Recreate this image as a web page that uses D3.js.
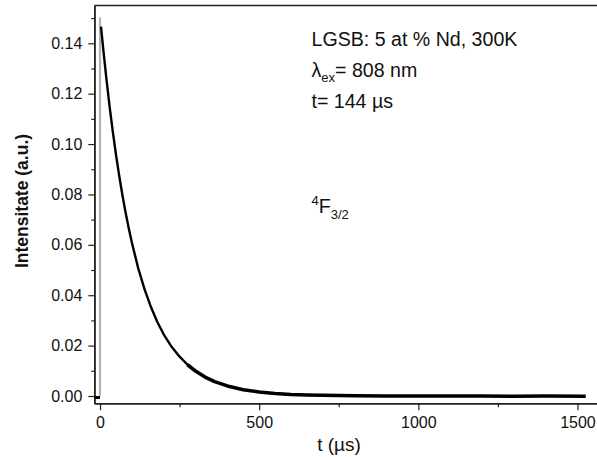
<!DOCTYPE html>
<html>
<head>
<meta charset="utf-8">
<script src="https://cdn.jsdelivr.net/npm/d3@7"></script>
<style>
  body { margin: 0; background: #fff; }
  text { font-family: "Liberation Sans", Arial, sans-serif; fill: #111; }
</style>
</head>
<body>
<script>
//data
var decayTime = [3, 10, 20, 30, 40, 50, 60, 70, 80, 90, 100, 120, 140, 160, 180, 200, 225, 250, 275, 300];
var decayValue = [0.1466, 0.1379, 0.1260, 0.1150, 0.1050, 0.0959, 0.0876, 0.0800, 0.0730, 0.0667,
  0.0609, 0.0507, 0.0423, 0.0353, 0.0294, 0.0245, 0.0195, 0.0156, 0.0124, 0.0099];
var tailTime = [275, 300, 330, 360, 400, 450, 500, 550, 600, 650, 700, 800, 900,
  1000, 1100, 1200, 1300, 1400, 1526];
var tailValue = [0.0124, 0.0099, 0.0075, 0.0057, 0.0040, 0.0025, 0.0016,
  0.0010, 0.0006, 0.0004, 0.0003, 0.0001, 0.0000, 0.0000, 0.0000, 0.0000, -0.0001, 0.0000, -0.0001];
var preTime = [-16, 0];
var preValue = [-0.0006, -0.0006];
var spikeTime = [0, 0];
var spikeValue = [0.0, 0.1503];
var xMajor = [0, 500, 1000, 1500];
var xMinor = [250, 750, 1250];
var yMajor = [0, 0.02, 0.04, 0.06, 0.08, 0.10, 0.12, 0.14];
var yMinor = [0.01, 0.03, 0.05, 0.07, 0.09, 0.11, 0.13, 0.15];

var svgWidth = 597;
var svgHeight = 457;

var svg = d3.select("body")
  .append("svg")
  .attr("width", svgWidth)
  .attr("height", svgHeight);

//scales, the plot runs off the right edge of the picture
var xScale = d3.scaleLinear()
  .domain([-18, 1562])
  .range([94.3, 597.2]);
var yScale = d3.scaleLinear()
  .domain([-0.0029, 0.155])
  .range([403.3, 5.5]);

var axisColor = "#222";

//x axis
svg.append("g")
  .attr("transform", "translate(0," + yScale.range()[0] + ")")
  .call(d3.axisBottom(xScale).tickValues(xMajor).tickFormat(d3.format("d")).tickSize(7).tickPadding(6).tickSizeOuter(0));
svg.append("g")
  .attr("transform", "translate(0," + yScale.range()[0] + ")")
  .call(d3.axisBottom(xScale).tickValues(xMinor).tickSize(4).tickFormat("").tickSizeOuter(0));

//y axis
svg.append("g")
  .attr("transform", "translate(" + xScale.range()[0] + ",0)")
  .call(d3.axisLeft(yScale).tickValues(yMajor).tickFormat(d3.format(".2f")).tickSize(6).tickPadding(6).tickSizeOuter(0));
svg.append("g")
  .attr("transform", "translate(" + xScale.range()[0] + ",0)")
  .call(d3.axisLeft(yScale).tickValues(yMinor).tickSize(3).tickFormat("").tickSizeOuter(0));

svg.selectAll(".domain").attr("stroke", axisColor).attr("stroke-width", 1.6);
svg.selectAll(".tick line").attr("stroke", axisColor).attr("stroke-width", 1.2);
svg.selectAll(".tick text")
  .style("font-size", "16px")
  .style("font-family", "'Liberation Sans', Arial, sans-serif")
  .attr("fill", "#111");

//top frame line
svg.append("line")
  .attr("x1", xScale.range()[0])
  .attr("x2", xScale.range()[1])
  .attr("y1", yScale.range()[1])
  .attr("y2", yScale.range()[1])
  .attr("stroke", axisColor)
  .attr("stroke-width", 1.6);

//lines
var line = d3.line()
  .x(function(d) { return xScale(d[0]); })
  .y(function(d) { return yScale(d[1]); });

svg.append("path")
  .attr("d", line(d3.zip(spikeTime, spikeValue)))
  .attr("fill", "none")
  .attr("stroke", "#b3b3b3")
  .attr("stroke-width", 2.2);

svg.append("path")
  .attr("d", line(d3.zip(preTime, preValue)))
  .attr("fill", "none")
  .attr("stroke", "#000")
  .attr("stroke-width", 3);

svg.append("path")
  .attr("d", line(d3.zip(decayTime, decayValue)))
  .attr("fill", "none")
  .attr("stroke", "#000")
  .attr("stroke-width", 2.4)
  .attr("stroke-linejoin", "round");

//noisy tail is drawn as a thicker band
svg.append("path")
  .attr("d", line(d3.zip(tailTime, tailValue)))
  .attr("fill", "none")
  .attr("stroke", "#000")
  .attr("stroke-width", 3.6)
  .attr("stroke-linejoin", "round");

//axis titles
svg.append("text")
  .attr("x", 339)
  .attr("y", 451)
  .attr("text-anchor", "middle")
  .style("font-size", "19px")
  .text("t (\u00b5s)");

svg.append("text")
  .attr("transform", "translate(28,201) rotate(-90)")
  .attr("text-anchor", "middle")
  .style("font-size", "17.5px")
  .style("font-weight", "bold")
  .text("Intensitate (a.u.)");

//annotations
var noteX = 311.5;
var noteSize = "19.6px";
svg.append("text")
  .attr("x", noteX)
  .attr("y", 46)
  .style("font-size", noteSize)
  .text("LGSB: 5 at % Nd, 300K");

var lam = svg.append("text")
  .attr("x", noteX)
  .attr("y", 77)
  .style("font-size", noteSize);
lam.append("tspan").text("\u03bb");
lam.append("tspan").attr("dy", 5).style("font-size", "13px").text("ex");
lam.append("tspan").attr("dy", -5).text("= 808 nm");

svg.append("text")
  .attr("x", noteX)
  .attr("y", 108)
  .style("font-size", noteSize)
  .text("t= 144 \u00b5s");

var lev = svg.append("text")
  .attr("x", noteX)
  .attr("y", 213)
  .style("font-size", noteSize);
lev.append("tspan").attr("dy", -8).style("font-size", "13px").text("4");
lev.append("tspan").attr("dy", 8).text("F");
lev.append("tspan").attr("dy", 6).style("font-size", "13px").text("3/2");
</script>
</body>
</html>
